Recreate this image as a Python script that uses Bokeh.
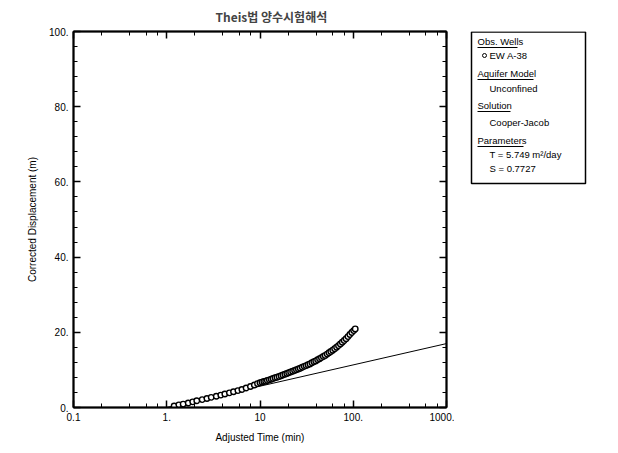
from bokeh.plotting import figure
from bokeh.layouts import row
from bokeh.models import (LogAxis, LinearAxis, SingleIntervalTicker, LogTicker,
                          Range1d, Title)
from bokeh.core.properties import value
from bokeh.embed import file_html
from bokeh.resources import INLINE

# ---- data ----
time_min = [1.2, 1.35, 1.5, 1.7, 1.9, 2.1, 2.4, 2.7, 3.0, 3.4, 3.8, 4.2, 4.7, 5.2,
            5.8, 6.4, 7.1, 7.9, 8.7, 9.4,
            10, 10.5, 11, 11.5, 12, 12.6, 13.2, 13.8, 14.5, 15.2, 16, 16.8, 17.6,
            18.5, 19.4, 20.3, 21.3, 22.4, 23.5, 24.6, 25.8, 27, 28.4, 29.8, 31.2,
            32.7, 34.3, 36, 37.8, 39.6, 41.5, 43.5, 45.6, 47.8, 50, 52.5, 55, 57.5,
            60.3, 63.2, 66.3, 69.5, 72.8, 76.3, 80, 83.8, 87.8, 92, 96.5, 101, 105]
displacement = [0.4, 0.7, 0.9, 1.2, 1.5, 1.8, 2.1, 2.4, 2.7, 3.0, 3.3, 3.6, 3.9, 4.2,
                4.5, 4.8, 5.2, 5.6, 6.0, 6.35,
                6.6, 6.75, 6.9, 7.0, 7.2, 7.35, 7.5, 7.7, 7.9, 8.05, 8.25, 8.45, 8.65,
                8.85, 9.05, 9.25, 9.45, 9.65, 9.85, 10.05, 10.25, 10.45, 10.7, 10.95,
                11.15, 11.35, 11.6, 11.9, 12.15, 12.4, 12.7, 12.95, 13.25, 13.55,
                13.85, 14.2, 14.55, 14.9, 15.25, 15.65, 16.05, 16.45, 16.9, 17.35,
                17.8, 18.3, 18.85, 19.4, 19.95, 20.45, 20.9]
fit_time = [1.0, 1000.0]
fit_disp = [0.0, 17.0]

x_ticks = [0.1, 1, 10, 100, 1000]
x_tick_labels = ["0.1", "1.", "10", "100.", "1000."]
y_ticks = [0, 20, 40, 60, 80, 100]
y_tick_labels = ["0.", "20.", "40.", "60.", "80.", "100."]

title_text = "Theis법 양수시험해석"
legend_items = ["Obs. Wells", "EW A-38", "Aquifer Model", "Unconfined", "Solution",
                "Cooper-Jacob", "Parameters", "T = 5.749 m²/day", "S = 0.7727"]
legend_is_header = [True, False, True, False, True, False, True, False, False]

FONT = "Liberation Sans"
H = 450
TOP = 31
FH = 376
BOT = H - TOP - FH

p = figure(x_axis_type="log", x_range=Range1d(0.1, 1000), y_range=Range1d(0, 100),
           frame_width=373, frame_height=FH, width=454, height=H,
           min_border_left=73, min_border_right=8, min_border_top=TOP,
           min_border_bottom=BOT,
           output_backend="svg", toolbar_location=None, background_fill_color="white",
           border_fill_color="white")
p.grid.visible = False
p.outline_line_color = "black"
p.outline_line_width = 1.5

def style_axis(ax, labels=True):
    ax.major_tick_in = 7
    ax.major_tick_out = 0
    ax.minor_tick_in = 4
    ax.minor_tick_out = 0
    ax.axis_line_width = 2
    ax.major_tick_line_width = 1.5
    ax.major_label_text_font = FONT
    if labels:
        ax.major_label_text_font_size = "10px"
        ax.major_label_text_color = "black"
    else:
        ax.major_label_text_font_size = "1px"
        ax.major_label_text_alpha = 0
    ax.axis_label_text_font = FONT
    ax.axis_label_text_font_size = "10px"
    ax.axis_label_text_font_style = "normal"
    ax.axis_label_text_color = "black"

xa = p.xaxis[0]
xa.ticker = LogTicker(desired_num_ticks=5)
xa.major_label_overrides = {t: s for t, s in zip(x_ticks, x_tick_labels)}
xa.axis_label = "Adjusted Time (min)"
style_axis(xa)
xa.major_label_standoff = 5
xa.axis_label_standoff = 8

ya = p.yaxis[0]
ya.ticker = SingleIntervalTicker(interval=20, num_minor_ticks=5)
ya.major_label_overrides = {t: s for t, s in zip(y_ticks, y_tick_labels)}
ya.axis_label = "Corrected Displacement (m)"
style_axis(ya)
ya.major_label_standoff = 5
ya.axis_label_standoff = 8

top = LogAxis(ticker=LogTicker(desired_num_ticks=5))
style_axis(top, labels=False)
top.major_label_standoff = 0
p.add_layout(top, "above")
right = LinearAxis(ticker=SingleIntervalTicker(interval=20, num_minor_ticks=5))
style_axis(right, labels=False)
right.major_label_standoff = 0
p.add_layout(right, "right")

# spacer to lift the title a few pixels
p.add_layout(Title(text=" ", text_font_size="4px", standoff=0), "above")
p.add_layout(Title(text=title_text, text_font="Noto Sans CJK KR", text_font_size="12px",
                   text_font_style="bold", align="left", offset=142, standoff=0),
             "above")

# fitted line and observations
p.line(fit_time, fit_disp, line_color="black", line_width=1)
p.scatter(time_min, displacement, marker="circle", size=5.5, fill_color="white",
          line_color="black", line_width=1.4)

# ---- legend panel (data coordinates = page pixels) ----
X0 = 454
q = figure(width=164, height=H, frame_width=164, frame_height=FH,
           x_range=Range1d(X0, X0 + 164), y_range=Range1d(TOP + FH, TOP),
           min_border_left=0, min_border_right=0, min_border_top=TOP,
           min_border_bottom=BOT, x_axis_location=None, y_axis_location=None,
           output_backend="svg", toolbar_location=None,
           background_fill_color="white", border_fill_color="white")
q.grid.visible = False
q.outline_line_color = None

q.quad(left=[471], right=[585], top=[TOP + 0.5], bottom=[183],
       fill_color="white", line_color="black", line_width=1.5)
ys = [41, 55, 73, 88, 105, 122, 140, 154, 168]
xs = [477 if h else 489 for h in legend_is_header]
q.text(x=xs, y=ys, text=legend_items, text_font=value(FONT), text_font_size="9.5px",
       text_align="left", text_baseline="middle", text_color="black")
under_w = {"Obs. Wells": 40, "Aquifer Model": 56, "Solution": 33, "Parameters": 46}
ul_l, ul_r, ul_y = [], [], []
for txt, h, yy in zip(legend_items, legend_is_header, ys):
    if h:
        ul_l.append(477)
        ul_r.append(477 + under_w[txt])
        ul_y.append(yy + 6)
q.segment(x0=ul_l, y0=ul_y, x1=ul_r, y1=ul_y, line_color="black", line_width=1)
q.scatter(x=[484], y=[55], marker="circle", size=4, fill_color="white",
          line_color="black", line_width=1)

open("out.html", "w").write(file_html(row(p, q, spacing=0), INLINE))
